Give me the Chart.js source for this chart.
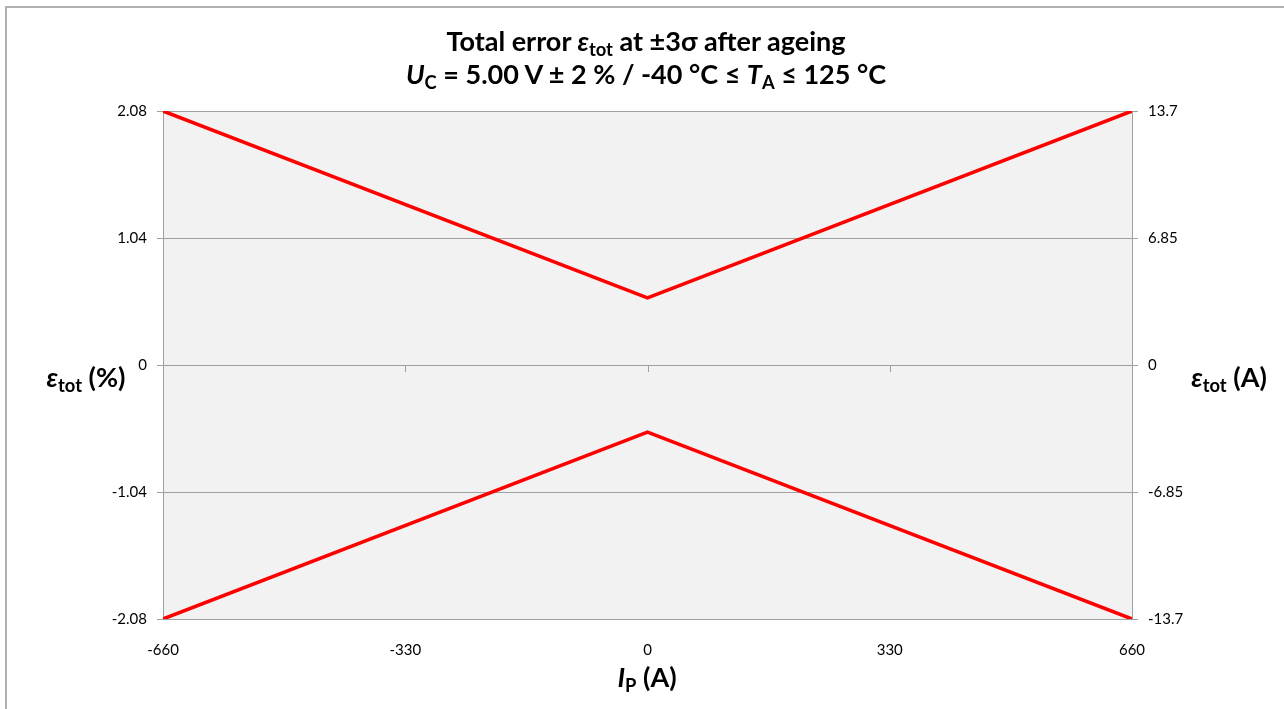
<!DOCTYPE html>
<html>
<head>
<meta charset="utf-8">
<script src="https://cdn.jsdelivr.net/npm/chart.js@4"></script>
<style>
  html, body { margin: 0; padding: 0; background: #fff; }
  #wrap { position: relative; width: 1284px; height: 709px; overflow: hidden; font-family: Lato, "Liberation Sans", sans-serif; }
  #frame { position: absolute; left: 5px; top: 6px; width: 1400px; height: 800px; border-left: 2px solid #b0b0b0; border-top: 2px solid #b0b0b0; }
  canvas { position: absolute; left: 0; top: 0; }
  .lbl { position: absolute; transform: translate(-50%, -50%); font-weight: bold; color: #000; white-space: nowrap; }
  .lbl sub { font-size: 0.68em; vertical-align: -0.25em; line-height: 0; }
  .title { font-size: 27px; text-align: center; line-height: 33px; }
  .axt { font-size: 27px; line-height: 30px; }
</style>
</head>
<body>
<div id="wrap">
  <div id="frame"></div>
  <canvas id="chart-error" width="1284" height="709"></canvas>
  <div class="lbl title" style="left:646px; top:57px;">
    Total error <i>ε</i><sub>tot</sub> at ±3σ after ageing<br>
    <i>U</i><sub>C</sub> = 5.00 V ± 2 % / -40 °C ≤ <i>T</i><sub>A</sub> ≤ 125 °C
  </div>
  <div class="lbl axt" style="left:86px; top:377px;"><i>ε</i><sub>tot</sub> (%)</div>
  <div class="lbl axt" style="left:1229px; top:377px;"><i>ε</i><sub>tot</sub> (A)</div>
  <div class="lbl axt" style="left:647px; top:677px;"><i>I</i><sub>P</sub> (A)</div>
</div>
<script>
// primary current (A)
const currentIp = [-660, 0, 660];
// total error (%) upper and lower bound
const errUpper = [2.08, 0.55, 2.08];
const errLower = [-2.08, -0.55, -2.08];

const xTicks = [-660, -330, 0, 330, 660];
const xTickLabels = ['-660', '-330', '0', '330', '660'];
const yLeftTicks = [-2.08, -1.04, 0, 1.04, 2.08];
const yLeftLabels = ['-2.08', '-1.04', '0', '1.04', '2.08'];
const yRightTicks = [-13.7, -6.85, 0, 6.85, 13.7];
const yRightLabels = ['-13.7', '-6.85', '0', '6.85', '13.7'];

const GRID = '#a0a0a0';
const tickFont = { family: 'Lato, "Liberation Sans", sans-serif', size: 15 };

const toPoints = (xs, ys) => xs.map((x, i) => ({ x, y: ys[i] }));

// grey plot background
const plotBg = {
  id: 'plotBg',
  beforeDraw(chart) {
    const { ctx, chartArea: a } = chart;
    ctx.save();
    ctx.fillStyle = '#f2f2f2';
    ctx.fillRect(a.left, a.top, a.right - a.left, a.bottom - a.top);
    ctx.restore();
  }
};

// small tick marks of the x axis sitting on the zero line
const zeroTicks = {
  id: 'zeroTicks',
  afterDatasetsDraw(chart) {
    const { ctx, scales } = chart;
    const y0 = scales.y.getPixelForValue(0);
    ctx.save();
    ctx.strokeStyle = GRID;
    ctx.lineWidth = 1;
    xTicks.forEach(v => {
      const px = Math.round(scales.x.getPixelForValue(v)) + 0.5;
      ctx.beginPath();
      ctx.moveTo(px, y0);
      ctx.lineTo(px, y0 + 7);
      ctx.stroke();
    });
    ctx.restore();
  }
};

const ErrorChart = {
  chart: null,

  init() {
    const ctx = document.getElementById('chart-error').getContext('2d');
    const lineStyle = {
      borderColor: '#ff0000',
      borderWidth: 3.5,
      pointRadius: 0,
      fill: false,
      tension: 0
    };

    this.chart = new Chart(ctx, {
      type: 'line',
      data: {
        datasets: [
          { label: 'upper', data: toPoints(currentIp, errUpper), ...lineStyle },
          { label: 'lower', data: toPoints(currentIp, errLower), ...lineStyle }
        ]
      },
      options: {
        responsive: false,
        animation: false,
        layout: { padding: { top: 111, left: 0, right: 0, bottom: 0 } },
        plugins: {
          legend: { display: false },
          tooltip: { enabled: false }
        },
        scales: {
          x: {
            type: 'linear',
            min: -660,
            max: 660,
            afterBuildTicks: s => { s.ticks = xTicks.map(v => ({ value: v })); },
            afterFit: s => { s.height = 90; },
            grid: { display: false },
            border: { display: false },
            ticks: {
              color: '#000',
              font: tickFont,
              padding: 14,
              maxRotation: 0,
              callback: (v, i) => xTickLabels[i]
            }
          },
          y: {
            position: 'left',
            min: -2.08,
            max: 2.08,
            afterBuildTicks: s => { s.ticks = yLeftTicks.map(v => ({ value: v })); },
            afterFit: s => { s.width = 163; },
            grid: { color: GRID, lineWidth: 1, tickLength: 6 },
            border: { display: true, color: GRID, width: 1 },
            ticks: {
              color: '#000',
              font: tickFont,
              padding: 10,
              callback: (v, i) => yLeftLabels[i]
            }
          },
          y2: {
            position: 'right',
            min: -13.7,
            max: 13.7,
            afterBuildTicks: s => { s.ticks = yRightTicks.map(v => ({ value: v })); },
            afterFit: s => { s.width = 152; },
            grid: { drawOnChartArea: false, color: GRID, tickLength: 6 },
            border: { display: true, color: GRID, width: 1 },
            ticks: {
              color: '#000',
              font: tickFont,
              padding: 10,
              callback: (v, i) => yRightLabels[i]
            }
          }
        }
      },
      plugins: [plotBg, zeroTicks]
    });
  }
};

ErrorChart.init();
</script>
</body>
</html>
